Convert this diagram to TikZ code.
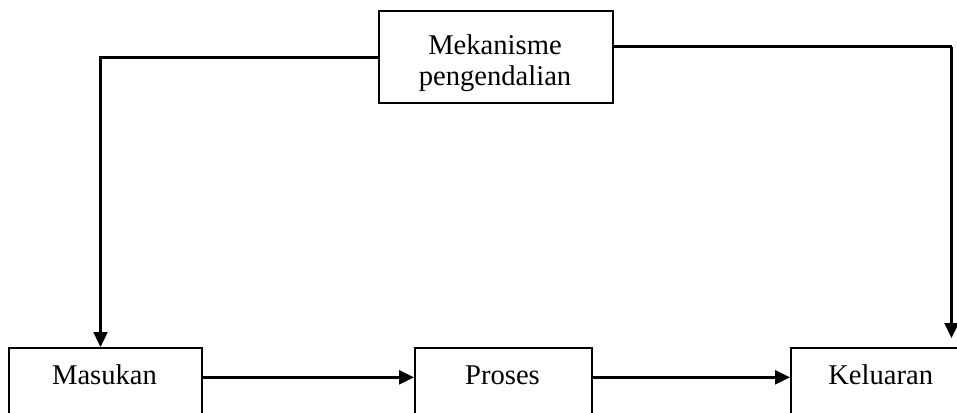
\documentclass[tikz,border=0pt]{standalone}
\usepackage{fontspec}
\setmainfont{Liberation Serif}
\usetikzlibrary{arrows.meta}
\begin{document}
\begin{tikzpicture}[x=1pt,y=1pt,
  boxnode/.style={draw=black, line width=1.7pt, inner sep=0pt, anchor=north west},
  lbl/.style={anchor=base, inner sep=0pt, font=\fontsize{28.6}{31}\selectfont},
  conn/.style={line width=2.4pt, -{Triangle[length=15pt,width=14pt]}},
  plain/.style={line width=2.4pt}]
\useasboundingbox (0,0) rectangle (957,-412);
\clip (0,0) rectangle (957,-412);
% boxes
\node[boxnode, minimum width=234pt, minimum height=92pt] (t) at (378,-10) {};
\node[boxnode, minimum width=193pt, minimum height=100pt] (m) at (8,-347) {};
\node[boxnode, minimum width=177pt, minimum height=100pt] (p) at (414,-347) {};
\node[boxnode, minimum width=182pt, minimum height=100pt] (k) at (790,-347) {};
% texts
\node[lbl] (t1) at (495,-54.3) {Mekanisme};
\node[lbl] (t2) at (495,-85) {pengendalian};
\node[lbl] (mt) at (104.5,-384.3) {Masukan};
\node[lbl] (pt) at (502.5,-384.3) {Proses};
\node[lbl] (kt) at (880.7,-384.3) {Keluaran};
% helper coordinates
\coordinate (ay) at (0,-377.3);
\coordinate (lx) at (100.5,-57.5);
\coordinate (rx) at (951.5,-46.7);
\coordinate (rend) at (951.5,-338);
% connectors
\draw[conn] (m.east |- ay) -- (p.west |- ay);
\draw[conn] (p.east |- ay) -- (k.west |- ay);
\draw[conn] (t.west |- lx) -| (m.north -| lx);
\draw[plain] (t.east |- rx) -- (rx);
\draw[conn] (rx) -- (rend);
\end{tikzpicture}
\end{document}
